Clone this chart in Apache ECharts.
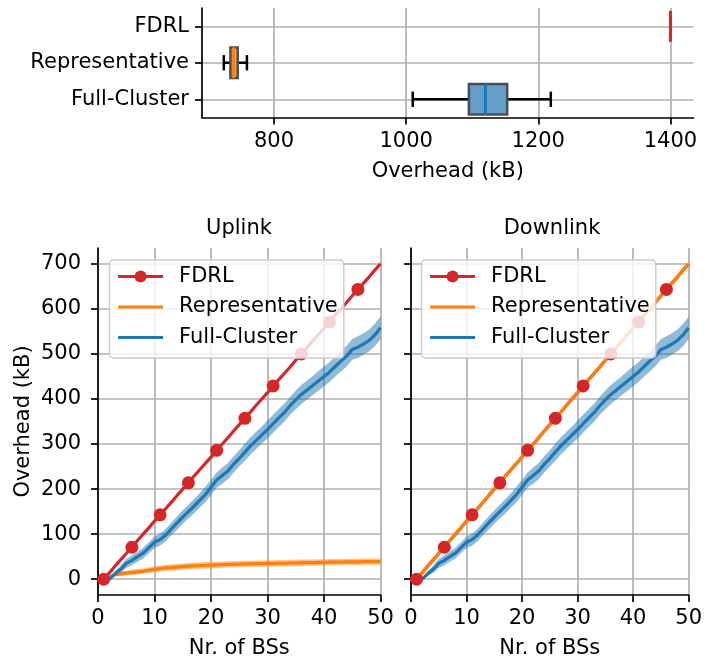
<!DOCTYPE html>
<html>
<head>
<meta charset="utf-8">
<title>Overhead</title>
<script src="https://cdn.jsdelivr.net/npm/echarts@6/dist/echarts.min.js"></script>
<style>
  html, body { margin: 0; padding: 0; background: #fff; }
  #chart { width: 705px; height: 664px; }
</style>
</head>
<body>
<div id="chart"></div>
<script>
// 箱线图数据 [min, q1, median, q3, max]
var boxCategories = ['Full-Cluster', 'Representative', 'FDRL']
var fullClusterBox = [1010, 1095, 1120, 1153, 1219]
var representativeBox = [724, 734, 739, 745, 759]
var fdrlBox = [1400, 1400, 1400, 1400, 1400]
var boxTicks = [800, 1000, 1200, 1400]

// 折线图数据
var nrBS = [1, 2, 3, 4, 5, 6, 7, 8, 9, 10, 11, 12, 13, 14, 15, 16, 17, 18, 19, 20,
  21, 22, 23, 24, 25, 26, 27, 28, 29, 30, 31, 32, 33, 34, 35, 36, 37, 38, 39, 40,
  41, 42, 43, 44, 45, 46, 47, 48, 49, 50]
var fdrlOverhead = [0, 14, 29, 43, 57, 71, 86, 100, 114, 129, 143, 157, 171, 186, 200, 214, 229, 243, 257, 271,
  286, 300, 314, 329, 343, 357, 371, 386, 400, 414, 429, 443, 457, 471, 486, 500, 514, 529, 543, 557,
  571, 586, 600, 614, 629, 643, 657, 671, 686, 700]
var representativeUp = [0, 5, 10, 12, 14, 15, 16.5, 18, 20, 22, 23.5, 25, 26, 27, 28, 29, 29.5, 30, 31, 31.5,
  32, 32.5, 33, 33, 33.5, 34, 34, 34.5, 34.5, 35, 35, 35.5, 35.5, 36, 36, 36.5, 37, 37, 37.5, 37.5,
  38, 38, 38, 38.5, 38.5, 38.5, 39, 39, 39, 39]
var representativeUpCi = [0, 2, 4, 5, 5, 6, 6, 6, 6, 6, 7, 7, 7, 7, 7, 7, 7, 7, 7, 7,
  7, 7, 7, 7, 7, 7, 7, 7, 7, 7, 7, 7, 7, 7, 7, 7, 7, 7, 7, 7,
  7, 7, 7, 7, 7, 7, 7, 7, 7, 7]
var representativeDown = fdrlOverhead
var fullCluster = [0, 0, 12, 22, 35, 42, 50, 58, 70, 82, 88, 98, 112, 125, 138, 150, 162, 175, 188, 204,
  220, 230, 240, 255, 268, 282, 296, 308, 320, 332, 345, 358, 370, 385, 398, 410, 420, 430, 440, 450,
  460, 472, 484, 495, 510, 515, 522, 530, 542, 558]
var fullClusterCi = [0, 1, 5, 8, 10, 11, 11, 12, 12, 13, 13, 14, 14, 15, 15, 15, 16, 16, 17, 17,
  17, 18, 18, 18, 18, 19, 19, 19, 19, 20, 20, 20, 20, 20, 21, 21, 21, 21, 22, 22,
  22, 22, 23, 23, 23, 24, 24, 24, 25, 25]
var overheadTicks = [0, 100, 200, 300, 400, 500, 600, 700]

var FONT = 'DejaVu Sans'
var RED = '#d62728'
var ORANGE = '#ff7f0e'
var BLUE = '#1f77b4'
var LINE_W = 3.2
var GRID_LINE = { color: '#b0b0b0', width: 1.7 }
var SPINE = { show: true, onZero: false, lineStyle: { color: '#000', width: 1.7 } }
var TICK = { show: true, length: 7, lineStyle: { color: '#000', width: 1.7 } }

// 箱线图的类目轴：中间插空位，让网格线落在类目中心
var boxAxisData = ['']
boxCategories.forEach(function (c) { boxAxisData.push(c, '') })
var oddOnly = function (index) { return index % 2 === 1 }

var boxStyles = [
  { fill: '#62a0ca', edge: '#4d4d4d', median: BLUE },
  { fill: '#ffa556', edge: '#4d4d4d', median: ORANGE },
  { fill: RED, edge: RED, median: RED }
]
var boxData = [fullClusterBox, representativeBox, fdrlBox].map(function (b, i) {
  return [2 * i + 1].concat(b)
})

function renderBox(params, api) {
  var row = api.value(0)
  var p = [1, 2, 3, 4, 5].map(function (d) { return api.coord([api.value(d), row]) })
  var cy = p[0][1]
  var h = api.size([0, 1])[1] * 1.68
  var cap = h / 2
  var st = boxStyles[params.dataIndex]
  var whisker = { stroke: '#000', lineWidth: 2.5 }
  return {
    type: 'group',
    children: [
      { type: 'line', shape: { x1: p[0][0], y1: cy, x2: p[1][0], y2: cy }, style: whisker },
      { type: 'line', shape: { x1: p[3][0], y1: cy, x2: p[4][0], y2: cy }, style: whisker },
      { type: 'line', shape: { x1: p[0][0], y1: cy - cap / 2, x2: p[0][0], y2: cy + cap / 2 }, style: whisker },
      { type: 'line', shape: { x1: p[4][0], y1: cy - cap / 2, x2: p[4][0], y2: cy + cap / 2 }, style: whisker },
      { type: 'rect', shape: { x: p[1][0], y: cy - h / 2, width: p[3][0] - p[1][0], height: h },
        style: { fill: st.fill, stroke: st.edge, lineWidth: 2.5 } },
      { type: 'line', shape: { x1: p[2][0], y1: cy - h / 2, x2: p[2][0], y2: cy + h / 2 },
        style: { stroke: st.median, lineWidth: 3 } }
    ]
  }
}

function pairs(ys) {
  return nrBS.map(function (x, i) { return [x, ys[i]] })
}

function lineSeries(name, ys, color, idx, withMarkers) {
  var s = {
    name: name, type: 'line', xAxisIndex: idx, yAxisIndex: idx,
    data: pairs(ys), color: color,
    lineStyle: { color: color, width: LINE_W },
    symbol: 'none', silent: true
  }
  if (withMarkers) {
    s.symbol = 'circle'
    s.symbolSize = 13
    s.itemStyle = { color: color }
    s.data = nrBS.map(function (x, i) {
      return i % 5 === 0 ? [x, ys[i]] : { value: [x, ys[i]], symbol: 'none' }
    })
  }
  return s
}

// 置信区间：用 custom 系列画成一个多边形
function bandSeries(name, ys, ci, color, idx) {
  var rows = nrBS.map(function (x, i) { return [x, ys[i] - ci[i], ys[i] + ci[i]] })
  return {
    name: name + ' band', type: 'custom', xAxisIndex: idx, yAxisIndex: idx,
    data: rows, encode: { x: 0, y: [1, 2] }, silent: true,
    renderItem: function (params, api) {
      if (params.dataIndex !== 0) return null
      var upper = rows.map(function (r) { return api.coord([r[0], r[2]]) })
      var lower = rows.map(function (r) { return api.coord([r[0], r[1]]) }).reverse()
      return { type: 'polygon', shape: { points: upper.concat(lower) }, style: { fill: color } }
    }
  }
}

function lineXAxis(idx) {
  return {
    type: 'value', gridIndex: idx, min: 0, max: 50, interval: 10,
    axisLine: SPINE, axisTick: TICK,
    axisLabel: { color: '#000', fontSize: 21, fontFamily: FONT, margin: 13 },
    splitLine: { show: true, lineStyle: GRID_LINE },
    name: 'Nr. of BSs', nameLocation: 'middle', nameGap: 43,
    nameTextStyle: { color: '#000', fontSize: 21, fontFamily: FONT }
  }
}

function lineYAxis(idx, showLabels) {
  var ax = {
    type: 'value', gridIndex: idx, min: -35, max: 735,
    axisLine: SPINE,
    axisTick: Object.assign({ customValues: overheadTicks }, TICK),
    axisLabel: { show: showLabels, customValues: overheadTicks, color: '#000', fontSize: 21, fontFamily: FONT, margin: 17 },
    splitLine: { show: true, customValues: overheadTicks, lineStyle: GRID_LINE }
  }
  if (showLabels) {
    ax.name = 'Overhead (kB)'
    ax.nameLocation = 'middle'
    ax.nameGap = 64
    ax.nameRotate = 90
    ax.nameTextStyle = { color: '#000', fontSize: 21, fontFamily: FONT }
  }
  return ax
}

// 图例：只有 FDRL 带圆点，其余只画线
var noMarker = { color: 'transparent', borderColor: 'transparent', borderWidth: 0 }
function legendAt(left) {
  return {
    orient: 'vertical', left: left, top: 260,
    data: [
      { name: 'FDRL', lineStyle: { width: LINE_W } },
      { name: 'Representative', itemStyle: noMarker, lineStyle: { width: LINE_W } },
      { name: 'Full-Cluster', itemStyle: noMarker, lineStyle: { width: LINE_W } }
    ],
    itemWidth: 45, itemHeight: 15, itemGap: 9.5,
    padding: [6, 6, 10, 7],
    backgroundColor: 'rgba(255,255,255,0.8)',
    borderColor: '#cccccc', borderWidth: 1.5, borderRadius: 4,
    selectedMode: false,
    textStyle: { color: '#000', fontSize: 21, fontFamily: FONT, lineHeight: 21, padding: [0, 0, 0, 11] }
  }
}

var series = [
  {
    name: 'boxes', type: 'custom', xAxisIndex: 0, yAxisIndex: 0,
    data: boxData, encode: { x: [1, 2, 3, 4, 5], y: 0 },
    renderItem: renderBox, silent: true
  },
  // Uplink
  lineSeries('FDRL', fdrlOverhead, RED, 1, true),
  bandSeries('Representative', representativeUp, representativeUpCi, 'rgba(255,127,14,0.5)', 1),
  lineSeries('Representative', representativeUp, ORANGE, 1, false),
  bandSeries('Full-Cluster', fullCluster, fullClusterCi, 'rgba(31,119,180,0.5)', 1),
  lineSeries('Full-Cluster', fullCluster, BLUE, 1, false),
  // Downlink
  lineSeries('FDRL', fdrlOverhead, RED, 2, true),
  lineSeries('Representative', representativeDown, ORANGE, 2, false),
  bandSeries('Full-Cluster', fullCluster, fullClusterCi, 'rgba(31,119,180,0.5)', 2),
  lineSeries('Full-Cluster', fullCluster, BLUE, 2, false)
]

var option = {
  animation: false,
  backgroundColor: '#fff',
  textStyle: { fontFamily: FONT },
  grid: [
    { left: 202, top: 8, width: 491.5, height: 109.5 },
    { left: 98, top: 248, width: 282.5, height: 350.3 },
    { left: 411, top: 248, width: 282, height: 350.3 }
  ],
  graphic: [
    { type: 'text', x: 239, y: 218, style: { text: 'Uplink', fontSize: 21, fontFamily: FONT, fill: '#000', align: 'center' } },
    { type: 'text', x: 552, y: 218, style: { text: 'Downlink', fontSize: 21, fontFamily: FONT, fill: '#000', align: 'center' } }
  ],
  legend: [legendAt(109.5), legendAt(421.5)],
  xAxis: [
    {
      type: 'value', gridIndex: 0, min: 691, max: 1435,
      axisLine: SPINE,
      axisTick: Object.assign({ customValues: boxTicks }, TICK),
      axisLabel: { customValues: boxTicks, color: '#000', fontSize: 21, fontFamily: FONT, margin: 14,
        formatter: function (v) { return String(v) } },
      splitLine: { show: true, customValues: boxTicks, lineStyle: GRID_LINE },
      name: 'Overhead (kB)', nameLocation: 'middle', nameGap: 44,
      nameTextStyle: { color: '#000', fontSize: 21, fontFamily: FONT }
    },
    lineXAxis(1),
    lineXAxis(2)
  ],
  yAxis: [
    {
      type: 'category', gridIndex: 0, data: boxAxisData, boundaryGap: false,
      axisLine: SPINE,
      axisTick: Object.assign({ interval: oddOnly }, TICK),
      axisLabel: { interval: oddOnly, color: '#000', fontSize: 21, fontFamily: FONT, margin: 13 },
      splitLine: { show: true, interval: oddOnly, lineStyle: GRID_LINE }
    },
    lineYAxis(1, true),
    lineYAxis(2, false)
  ],
  series: series
}

var chart = echarts.init(document.getElementById('chart'))
chart.setOption(option)
</script>
</body>
</html>
